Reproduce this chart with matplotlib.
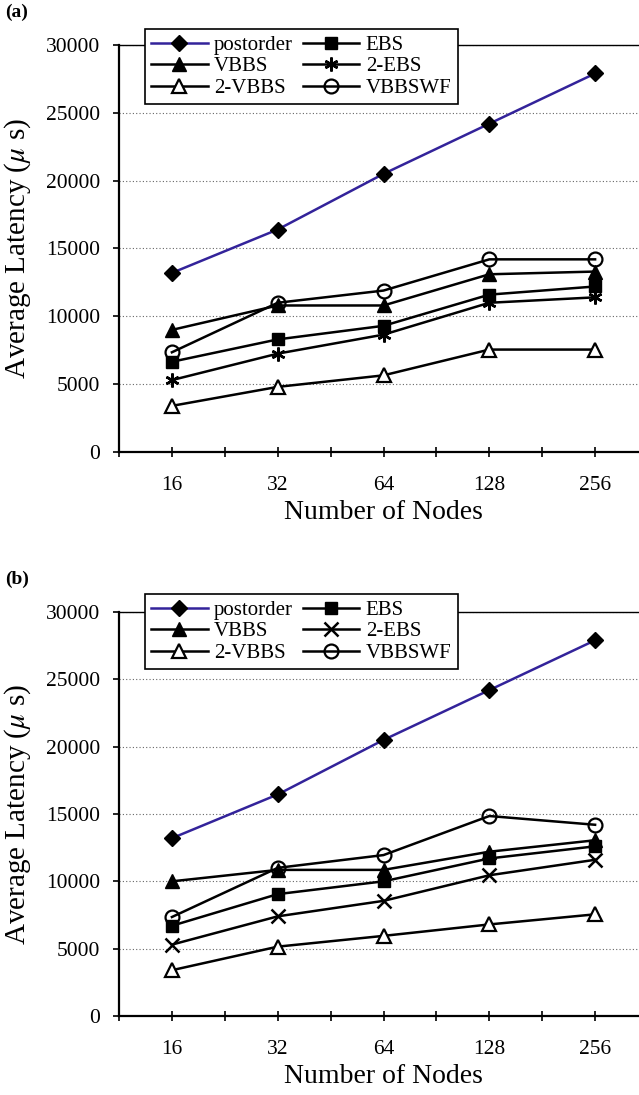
import numpy as np
import matplotlib
matplotlib.use('Agg')
import matplotlib.pyplot as plt

plt.rcParams['font.family'] = ['Liberation Serif', 'DejaVu Serif']
plt.rcParams['mathtext.fontset'] = 'stix'

nodes = ['16', '32', '64', '128', '256']
series = ['postorder', 'VBBS', '2-VBBS', 'EBS', '2-EBS', 'VBBSWF']

# panel (a)
a_postorder = [13200, 16400, 20500, 24200, 27900]
a_vbbs = [9000, 10800, 10800, 13100, 13300]
a_2vbbs = [3400, 4800, 5650, 7550, 7550]
a_ebs = [6650, 8300, 9300, 11600, 12200]
a_2ebs = [5300, 7250, 8650, 11000, 11400]
a_vbbswf = [7350, 11000, 11900, 14200, 14200]

# panel (b)
b_postorder = [13200, 16450, 20500, 24200, 27900]
b_vbbs = [10000, 10850, 10850, 12200, 13050]
b_2vbbs = [3400, 5150, 5950, 6800, 7550]
b_ebs = [6700, 9050, 10000, 11700, 12600]
b_2ebs = [5300, 7400, 8550, 10450, 11600]
b_vbbswf = [7350, 11000, 11950, 14850, 14200]

W, H = 639, 1095
fig = plt.figure(figsize=(W / 100, H / 100), dpi=100)

star = (6, 2, 0)
styles = {
    'postorder': dict(color='#33239a', marker='D', mfc='black', mec='black', ms=8.5),
    'VBBS': dict(color='black', marker='^', mfc='black', mec='black', ms=10),
    '2-VBBS': dict(color='black', marker='^', mfc='white', mec='black', ms=10, mew=1.6),
    'EBS': dict(color='black', marker='s', mfc='black', mec='black', ms=9),
    '2-EBS': dict(color='black', marker=star, mfc='black', mec='black', ms=10, mew=1.8),
    'VBBSWF': dict(color='black', marker='o', mfc='none', mec='black', ms=10, mew=1.6),
}


def panel(top, bottom, data, tag, ebs2_marker, leg_top):
    left = 119 / W
    width = 529 / W
    ax = fig.add_axes([left, 1 - bottom / H, width, (bottom - top) / H])
    x = np.arange(len(nodes))
    handles = []
    for name in series:
        st = dict(styles[name])
        if name == '2-EBS':
            st['marker'] = ebs2_marker
        h, = ax.plot(x, data[name], lw=1.8, label=name, zorder=3, **st)
        handles.append(h)
    ax.set_xlim(-0.5, 4.5)
    ax.set_ylim(0, 30000)
    ax.set_yticks(np.arange(0, 30001, 5000))
    ax.set_xticks(x)
    ax.set_xticklabels(nodes)
    ax.set_xticks(np.arange(-0.5, 4.6, 1), minor=True)
    ax.tick_params(axis='x', which='both', direction='inout', length=7, width=1.2, pad=14)
    ax.tick_params(axis='y', direction='out', length=4.5, width=1.2, pad=9)
    ax.tick_params(labelsize=15.5)
    ax.yaxis.grid(True, linestyle=(0, (1, 2)), color='#666666', lw=0.8)
    ax.set_axisbelow(True)
    for s in ['left', 'bottom', 'top']:
        ax.spines[s].set_linewidth(1.6)
    ax.spines['top'].set_linewidth(1.0)
    ax.spines['right'].set_visible(False)
    h_ax = bottom - top
    ax.set_xlabel('Number of Nodes', fontsize=20)
    ax.xaxis.set_label_coords(0.5, -(500 - 452) / h_ax)
    ax.set_ylabel(r'Average Latency ($\mu$ s)', fontsize=21)
    ax.yaxis.set_label_coords(-(119 - 33) / 529, 0.5)
    fig.text(5 / W, 1 - (top - 41) / H, tag, fontsize=14, fontweight='bold', va='top', ha='left')
    leg = fig.legend(handles, series, ncol=2, loc='upper left',
                     bbox_to_anchor=(145 / W, 1 - leg_top / H), fontsize=15,
                     frameon=True, fancybox=False, edgecolor='black', framealpha=1,
                     handlelength=2.7, handletextpad=0.3, columnspacing=0.5,
                     labelspacing=0.1, borderpad=0.3, borderaxespad=0)
    leg.get_frame().set_linewidth(1.2)
    return ax


panel(45, 452, {'postorder': a_postorder, 'VBBS': a_vbbs, '2-VBBS': a_2vbbs,
                'EBS': a_ebs, '2-EBS': a_2ebs, 'VBBSWF': a_vbbswf},
      '(a)', star, 29)
panel(612, 1016, {'postorder': b_postorder, 'VBBS': b_vbbs, '2-VBBS': b_2vbbs,
                  'EBS': b_ebs, '2-EBS': b_2ebs, 'VBBSWF': b_vbbswf},
      '(b)', 'x', 594)

fig.savefig('out.png', dpi=100)
